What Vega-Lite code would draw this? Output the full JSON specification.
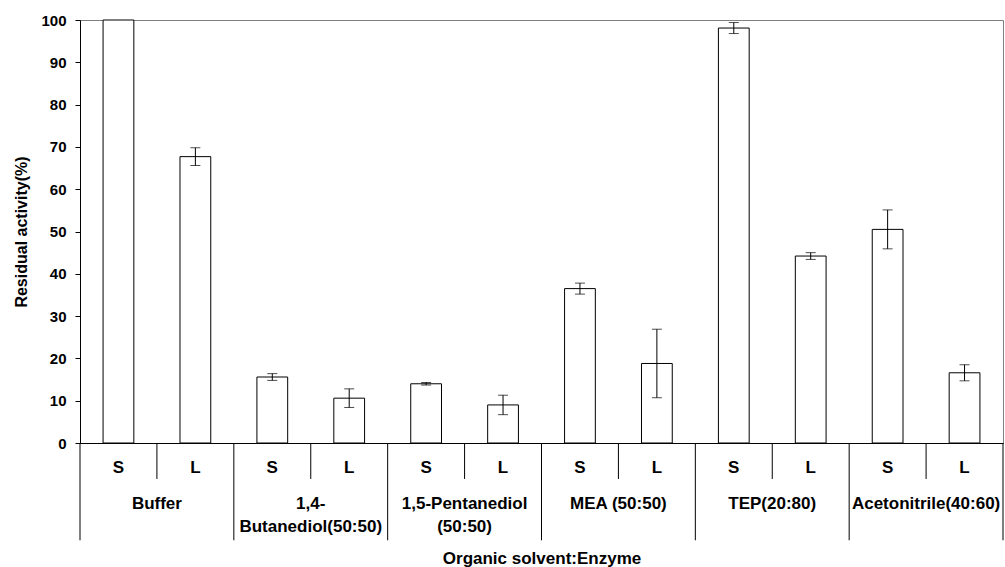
{
  "$schema": "https://vega.github.io/schema/vega-lite/v6.json",
  "autosize": {"type": "none"},
  "padding": {"left": 80, "top": 20, "right": 2, "bottom": 124},
  "width": 923,
  "height": 423,
  "background": "white",
  "config": {
    "view": {"stroke": "#808080", "strokeWidth": 1},
    "font": "Liberation Sans",
    "axis": {"labelFont": "Liberation Sans", "titleFont": "Liberation Sans", "labelFontWeight": "bold", "titleFontWeight": "bold", "labelColor": "black", "titleColor": "black", "domainColor": "black", "tickColor": "black", "grid": false}
  },
  "data": {
    "values": [
      {"id": "Buffer|S", "group": "Buffer", "enzyme": "S", "groupLabel": "Buffer", "value": 100, "err": 0},
      {"id": "Buffer|L", "group": "Buffer", "enzyme": "L", "groupLabel": "Buffer", "value": 67.7, "err": 2.1},
      {"id": "Butanediol|S", "group": "Butanediol", "enzyme": "S", "groupLabel": "1,4-\nButanediol(50:50)", "value": 15.6, "err": 0.8},
      {"id": "Butanediol|L", "group": "Butanediol", "enzyme": "L", "groupLabel": "1,4-\nButanediol(50:50)", "value": 10.6, "err": 2.2},
      {"id": "Pentanediol|S", "group": "Pentanediol", "enzyme": "S", "groupLabel": "1,5-Pentanediol\n(50:50)", "value": 14.0, "err": 0.3},
      {"id": "Pentanediol|L", "group": "Pentanediol", "enzyme": "L", "groupLabel": "1,5-Pentanediol\n(50:50)", "value": 9.0, "err": 2.3},
      {"id": "MEA|S", "group": "MEA", "enzyme": "S", "groupLabel": "MEA (50:50)", "value": 36.5, "err": 1.3},
      {"id": "MEA|L", "group": "MEA", "enzyme": "L", "groupLabel": "MEA (50:50)", "value": 18.8, "err": 8.1},
      {"id": "TEP|S", "group": "TEP", "enzyme": "S", "groupLabel": "TEP(20:80)", "value": 98.1, "err": 1.3},
      {"id": "TEP|L", "group": "TEP", "enzyme": "L", "groupLabel": "TEP(20:80)", "value": 44.2, "err": 0.8},
      {"id": "Acetonitrile|S", "group": "Acetonitrile", "enzyme": "S", "groupLabel": "Acetonitrile(40:60)", "value": 50.5, "err": 4.6},
      {"id": "Acetonitrile|L", "group": "Acetonitrile", "enzyme": "L", "groupLabel": "Acetonitrile(40:60)", "value": 16.6, "err": 1.9}
    ]
  },
  "layer": [
    {
      "mark": {"type": "bar", "fill": "white", "stroke": "black", "strokeWidth": 1, "width": {"band": 0.4}},
      "encoding": {
        "x": {
          "field": "id", "type": "nominal", "sort": null,
          "scale": {"paddingInner": 0, "paddingOuter": 0},
          "axis": {
            "labelExpr": "split(datum.value, '|')[1]",
            "labelAngle": 0, "labelFontSize": 17, "labelPadding": 16, "ticks": false,
            "title": "Organic solvent:Enzyme", "titleFontSize": 17, "titlePadding": 75
          }
        },
        "y": {
          "field": "value", "type": "quantitative",
          "title": "Residual activity(%)",
          "scale": {"domain": [0, 100], "nice": false},
          "axis": {
            "values": [0, 10, 20, 30, 40, 50, 60, 70, 80, 90, 100],
            "tickSize": 5, "labelPadding": 9, "labelFontSize": 15,
            "titleFontSize": 16, "titlePadding": 11
          }
        }
      }
    },
    {
      "transform": [{"filter": "datum.err > 0"}],
      "mark": {"type": "errorbar", "ticks": {"size": 10, "color": "black"}, "rule": {"color": "black", "strokeWidth": 1}},
      "encoding": {
        "x": {"field": "id", "type": "nominal", "sort": null},
        "y": {"field": "value", "type": "quantitative", "title": "Residual activity(%)"},
        "yError": {"field": "err"}
      }
    },
    {
      "transform": [{"filter": "datum.enzyme == 'L'"}],
      "mark": {"type": "rule", "color": "black", "strokeWidth": 1},
      "encoding": {
        "x": {"field": "id", "type": "nominal", "sort": null, "bandPosition": 0},
        "y": {"datum": 0},
        "y2": {"datum": -8.5}
      }
    },
    {
      "transform": [{"filter": "datum.enzyme == 'S'"}],
      "mark": {"type": "rule", "color": "black", "strokeWidth": 1},
      "encoding": {
        "x": {"field": "id", "type": "nominal", "sort": null, "bandPosition": 0},
        "y": {"datum": 0},
        "y2": {"datum": -23}
      }
    },
    {
      "transform": [{"filter": "datum.id == 'Acetonitrile|L'"}],
      "mark": {"type": "rule", "color": "black", "strokeWidth": 1},
      "encoding": {
        "x": {"field": "id", "type": "nominal", "sort": null, "bandPosition": 1},
        "y": {"datum": 0},
        "y2": {"datum": -23}
      }
    },
    {
      "transform": [{"filter": "datum.enzyme == 'L'"}],
      "mark": {"type": "text", "font": "Liberation Sans", "fontWeight": "bold", "fontSize": 17, "baseline": "top", "align": "center", "lineBreak": "\n", "lineHeight": 23, "color": "black"},
      "encoding": {
        "x": {"field": "id", "type": "nominal", "sort": null, "bandPosition": 0},
        "y": {"datum": -12.6},
        "text": {"field": "groupLabel"}
      }
    }
  ]
}
